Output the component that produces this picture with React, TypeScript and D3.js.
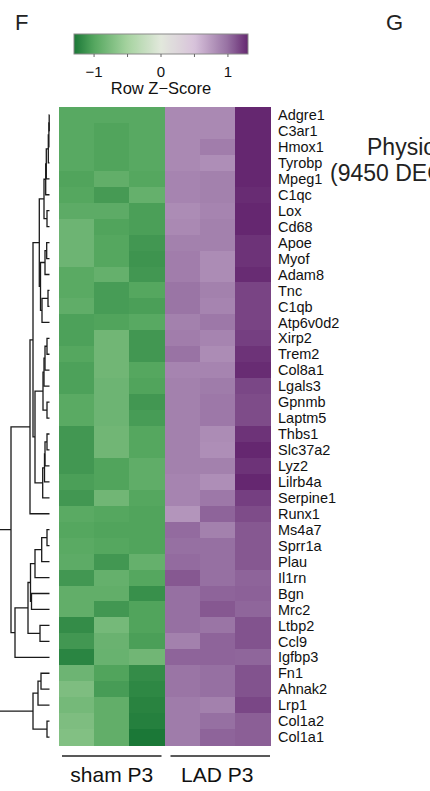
import React from 'react';
import * as d3 from 'd3';

const GENES = [
  'Adgre1', 'C3ar1', 'Hmox1', 'Tyrobp', 'Mpeg1', 'C1qc', 'Lox', 'Cd68', 'Apoe', 'Myof',
  'Adam8', 'Tnc', 'C1qb', 'Atp6v0d2', 'Xirp2', 'Trem2', 'Col8a1', 'Lgals3', 'Gpnmb', 'Laptm5',
  'Thbs1', 'Slc37a2', 'Lyz2', 'Lilrb4a', 'Serpine1', 'Runx1', 'Ms4a7', 'Sprr1a', 'Plau', 'Il1rn',
  'Bgn', 'Mrc2', 'Ltbp2', 'Ccl9', 'Igfbp3', 'Fn1', 'Ahnak2', 'Lrp1', 'Col1a2', 'Col1a1',
];

const SAMPLES = ['sham_1', 'sham_2', 'sham_3', 'LAD_1', 'LAD_2', 'LAD_3'];
const GROUP_LABELS = ['sham P3', 'LAD P3'];
const SAMPLE_GROUP = [0, 0, 0, 1, 1, 1];

// row z-scores, one row per gene, columns in SAMPLES order
const ZSCORES: number[][] = [
  [-0.98, -0.98, -0.98, 0.85, 0.85, 1.35],
  [-0.98, -1.02, -0.98, 0.85, 0.85, 1.35],
  [-0.98, -1.02, -0.98, 0.85, 0.92, 1.3],
  [-0.98, -1.02, -0.98, 0.85, 0.82, 1.35],
  [-1.02, -0.92, -1.0, 0.88, 0.9, 1.3],
  [-1.0, -1.08, -0.9, 0.88, 0.9, 1.28],
  [-0.95, -0.95, -1.05, 0.83, 0.88, 1.35],
  [-0.85, -1.02, -1.05, 0.85, 0.9, 1.35],
  [-0.85, -1.0, -1.1, 0.9, 0.9, 1.25],
  [-0.85, -1.0, -1.12, 0.92, 0.83, 1.25],
  [-0.97, -0.9, -1.1, 0.92, 0.83, 1.28],
  [-0.97, -1.07, -1.0, 0.97, 0.9, 1.18],
  [-0.93, -1.07, -1.05, 0.97, 0.88, 1.18],
  [-1.04, -1.02, -0.98, 0.9, 0.95, 1.18],
  [-1.04, -0.83, -1.1, 0.92, 0.88, 1.2],
  [-1.0, -0.83, -1.1, 0.98, 0.83, 1.25],
  [-1.04, -0.83, -1.0, 0.88, 0.88, 1.28],
  [-1.04, -0.85, -1.02, 0.9, 0.93, 1.17],
  [-0.97, -0.85, -1.1, 0.9, 0.95, 1.15],
  [-0.97, -0.85, -1.07, 0.9, 0.95, 1.15],
  [-1.1, -0.83, -1.0, 0.9, 0.83, 1.25],
  [-1.1, -0.83, -1.0, 0.9, 0.82, 1.35],
  [-1.1, -1.02, -0.93, 0.9, 0.9, 1.25],
  [-1.05, -1.02, -0.93, 0.88, 0.82, 1.3],
  [-1.1, -0.83, -1.0, 0.88, 0.95, 1.2],
  [-0.97, -1.0, -1.02, 0.78, 1.05, 1.15],
  [-1.0, -1.02, -1.02, 1.02, 0.9, 1.1],
  [-0.97, -1.0, -1.02, 1.0, 1.0, 1.1],
  [-0.95, -1.1, -0.9, 1.02, 1.0, 1.1],
  [-1.1, -0.9, -1.0, 1.1, 1.0, 1.05],
  [-0.92, -0.92, -1.15, 1.0, 1.05, 1.06],
  [-0.92, -1.1, -1.02, 1.0, 1.1, 1.04],
  [-1.17, -0.8, -1.02, 1.0, 0.97, 1.12],
  [-1.1, -0.87, -1.05, 0.9, 1.05, 1.12],
  [-1.22, -0.88, -0.83, 1.05, 1.05, 1.04],
  [-0.85, -1.02, -1.17, 0.97, 1.0, 1.12],
  [-0.75, -1.07, -1.2, 0.97, 1.0, 1.12],
  [-0.8, -0.92, -1.23, 0.93, 0.9, 1.17],
  [-0.75, -0.92, -1.25, 0.93, 1.0, 1.07],
  [-0.72, -0.92, -1.3, 0.93, 1.05, 1.07],
];

// hclust-style merges: [left, right, height]; a number refers to an earlier merge
const MERGES: [string | number, string | number, number][] = [
  ['Adgre1', 'C3ar1', 0.03],
  [0, 'Hmox1', 0.06],
  [1, 'Tyrobp', 0.12],
  [2, 'Mpeg1', 0.32],
  [3, 'C1qc', 0.38],
  ['Lox', 'Cd68', 0.25],
  [4, 5, 0.55],
  ['Apoe', 'Myof', 0.28],
  [7, 'Adam8', 0.45],
  ['Tnc', 'C1qb', 0.15],
  [9, 'Atp6v0d2', 0.75],
  [8, 10, 0.9],
  [6, 11, 1.02],
  ['Xirp2', 'Trem2', 0.25],
  [13, 'Col8a1', 0.45],
  [14, 'Lgals3', 0.55],
  ['Gpnmb', 'Laptm5', 0.25],
  [15, 16, 0.65],
  ['Thbs1', 'Slc37a2', 0.25],
  [18, 'Lyz2', 0.45],
  [19, 'Lilrb4a', 0.5],
  [20, 'Serpine1', 0.68],
  [17, 21, 1.45],
  [12, 22, 1.65],
  [23, 'Runx1', 1.95],
  ['Ms4a7', 'Sprr1a', 0.25],
  [25, 'Plau', 0.78],
  [26, 'Il1rn', 1.45],
  ['Bgn', 'Mrc2', 1.8],
  [27, 28, 1.9],
  ['Ltbp2', 'Ccl9', 0.95],
  [29, 30, 2.15],
  [31, 'Igfbp3', 3.45],
  [24, 32, 3.85],
  ['Fn1', 'Ahnak2', 0.85],
  [34, 'Lrp1', 1.15],
  ['Col1a2', 'Col1a1', 0.25],
  [35, 36, 1.65],
  [33, 37, 5.1],
];

const COLOR_STOPS = [-1.3, -1.0, -0.5, 0, 0.5, 1.0, 1.3];
const COLOR_VALUES = ['#1b7837', '#55a75f', '#a6d3a0', '#e2e8dc', '#d8c3db', '#9670a2', '#652770'];
const KEY_DOMAIN = [-1.3, 1.3];
const KEY_TICKS = [-1, -0.5, 0, 0.5, 1];
const KEY_LABELS = [-1, 0, 1];

const FONT = "'Liberation Sans', Arial, Helvetica, sans-serif";

const App: React.FC = () => {
  const width = 430;
  const height = 791;

  const color = d3
    .scaleLinear<string>()
    .domain(COLOR_STOPS)
    .range(COLOR_VALUES)
    .interpolate(d3.interpolateRgb)
    .clamp(true);

  const x = d3.scaleBand().domain(SAMPLES).range([59, 270]);
  const y = d3.scaleBand().domain(GENES).range([107, 745]);
  const keyX = d3.scaleLinear().domain(KEY_DOMAIN).range([74, 248]);
  const dx = d3.scaleLinear().domain([0, 5]).range([49.5, -0.5]);

  // dendrogram geometry
  type Pt = { y: number; h: number };
  const pos = (ref: string | number, nodes: Pt[]): Pt =>
    typeof ref === 'string'
      ? { y: (y(ref) ?? 0) + y.bandwidth() / 2, h: 0 }
      : nodes[ref];
  const nodes: Pt[] = [];
  const links: string[] = [];
  MERGES.forEach(([a, b, h]) => {
    const pa = pos(a, nodes);
    const pb = pos(b, nodes);
    const p = d3.path();
    p.moveTo(dx(pa.h), pa.y);
    p.lineTo(dx(h), pa.y);
    p.lineTo(dx(h), pb.y);
    p.lineTo(dx(pb.h), pb.y);
    links.push(p.toString());
    nodes.push({ y: (pa.y + pb.y) / 2, h });
  });

  const gradStops = d3.range(0, 1.0001, 0.02).map((t) => ({
    offset: t,
    color: color(KEY_DOMAIN[0] + t * (KEY_DOMAIN[1] - KEY_DOMAIN[0])),
  }));

  return (
    <svg width={width} height={height} style={{ display: 'block', background: '#fff' }} fontFamily={FONT}>
      <style>{`body{margin:0}`}</style>
      <defs>
        <linearGradient id="zkey" x1="0" x2="1" y1="0" y2="0">
          {gradStops.map((s) => (
            <stop key={s.offset} offset={s.offset} stopColor={s.color} />
          ))}
        </linearGradient>
      </defs>

      <text x={15} y={30} fontSize={22} fill="#222">F</text>
      <text x={386} y={30} fontSize={22} fill="#222">G</text>

      {/* colour key */}
      <rect x={keyX(KEY_DOMAIN[0])} y={34} width={keyX(KEY_DOMAIN[1]) - keyX(KEY_DOMAIN[0])} height={20}
        fill="url(#zkey)" stroke="#8a8a8a" strokeWidth={1} />
      {KEY_TICKS.map((t) => (
        <line key={t} x1={keyX(t)} x2={keyX(t)} y1={54} y2={57} stroke="#666" strokeWidth={1} />
      ))}
      {KEY_LABELS.map((t) => (
        <text key={t} x={keyX(t)} y={77} fontSize={15} textAnchor="middle" fill="#111">
          {t < 0 ? `\u2212${Math.abs(t)}` : `${t}`}
        </text>
      ))}
      <text x={keyX(0)} y={94} fontSize={16.5} textAnchor="middle" fill="#111">Row Z{'\u2212'}Score</text>

      {/* heatmap */}
      <g shapeRendering="crispEdges">
        {GENES.map((g, i) =>
          SAMPLES.map((s, j) => (
            <rect key={`${g}-${s}`} x={x(s)} y={y(g)} width={x.bandwidth() + 0.5} height={y.bandwidth() + 0.5}
              fill={color(ZSCORES[i][j])} />
          ))
        )}
      </g>

      {/* row dendrogram */}
      <g fill="none" stroke="#1a1a1a" strokeWidth={1.3}>
        {links.map((d, i) => (
          <path key={i} d={d} />
        ))}
      </g>

      {/* gene labels */}
      {GENES.map((g) => (
        <text key={g} x={278} y={(y(g) ?? 0) + y.bandwidth() / 2} dy="0.36em" fontSize={14.5} fill="#111">
          {g}
        </text>
      ))}

      {/* group bars */}
      {GROUP_LABELS.map((label, gi) => {
        const cols = SAMPLES.filter((_, j) => SAMPLE_GROUP[j] === gi);
        const x0 = x(cols[0]) ?? 0;
        const x1 = (x(cols[cols.length - 1]) ?? 0) + x.bandwidth();
        return (
          <g key={label}>
            <line x1={x0 + (gi === 0 ? 3 : 6)} x2={x1 - (gi === 0 ? 3 : 0)} y1={756} y2={756} stroke="#222" strokeWidth={1.5} />
            <text x={(x0 + x1) / 2} y={782} fontSize={21} textAnchor="middle" fill="#111">{label}</text>
          </g>
        );
      })}

      <text x={367} y={155} fontSize={23} fill="#222">Physiological</text>
      <text x={330} y={181} fontSize={23} fill="#222">(9450 DEGs)</text>
    </svg>
  );
};

export default App;
